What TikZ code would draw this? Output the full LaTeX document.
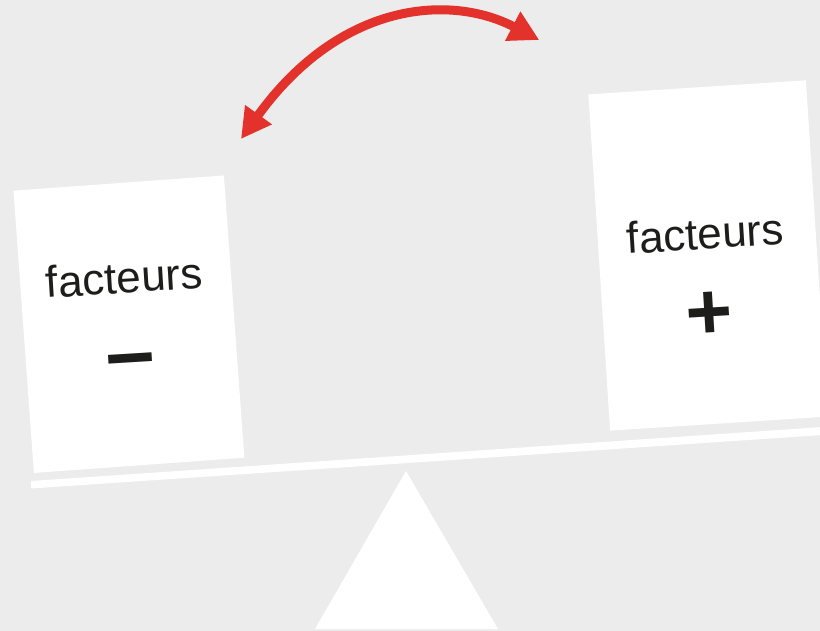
\documentclass[tikz,border=0pt]{standalone}
\usepackage{fontspec}
\setmainfont{Liberation Sans}
\usetikzlibrary{arrows.meta}
\definecolor{bg}{RGB}{236,236,236}
\definecolor{arrowred}{RGB}{227,49,43}
\definecolor{ink}{RGB}{29,29,27}
\begin{document}
\begin{tikzpicture}[x=1pt,y=-1pt,
  card/.style={fill=white, draw=none, inner sep=0pt},
  word/.style={text=ink, font=\fontsize{44}{50}\selectfont, inner sep=0pt},
  sign/.style={text=ink, font=\bfseries\fontsize{80}{90}\selectfont, inner sep=0pt, anchor=base},
  swing/.style={draw=arrowred, line width=9pt,
    {Triangle[length=30pt,width=31pt]}-{Triangle[length=30pt,width=31pt]}}]
\fill[bg] (0,0) rectangle (820,631);
\useasboundingbox (0,0) rectangle (820,631);
% beam
\fill[white] (31,481) -- (830,426.5) -- (830,434.5) -- (31,488.5) -- cycle;
% fulcrum
\fill[white] (406,471) -- (498,629) -- (315,629) -- cycle;
% cards
\node[card, minimum width=211pt, minimum height=283pt, rotate=4.15] (lc) at (128.9,324.2) {};
\node[card, minimum width=218pt, minimum height=337pt, rotate=3.7] (rc) at (708,255.5) {};
% texts
\node[word, anchor=base, rotate=3.5] (lt) at (125,293) {facteurs};
\node[sign, font=\bfseries\fontsize{88}{96}\selectfont, rotate=3.5] (lm) at (132,382) {–};
\node[word, anchor=base, rotate=3.5] (rt) at (706,249) {facteurs};
\node[sign, rotate=3.5] (rp) at (711,339) {+};
% arrow
\coordinate (tipL) at (241,139);
\coordinate (tipR) at (539.3,40);
\draw[swing] (tipL) .. controls (340.5,1.1) and (450.6,-6.2) .. (tipR);
\end{tikzpicture}
\end{document}
